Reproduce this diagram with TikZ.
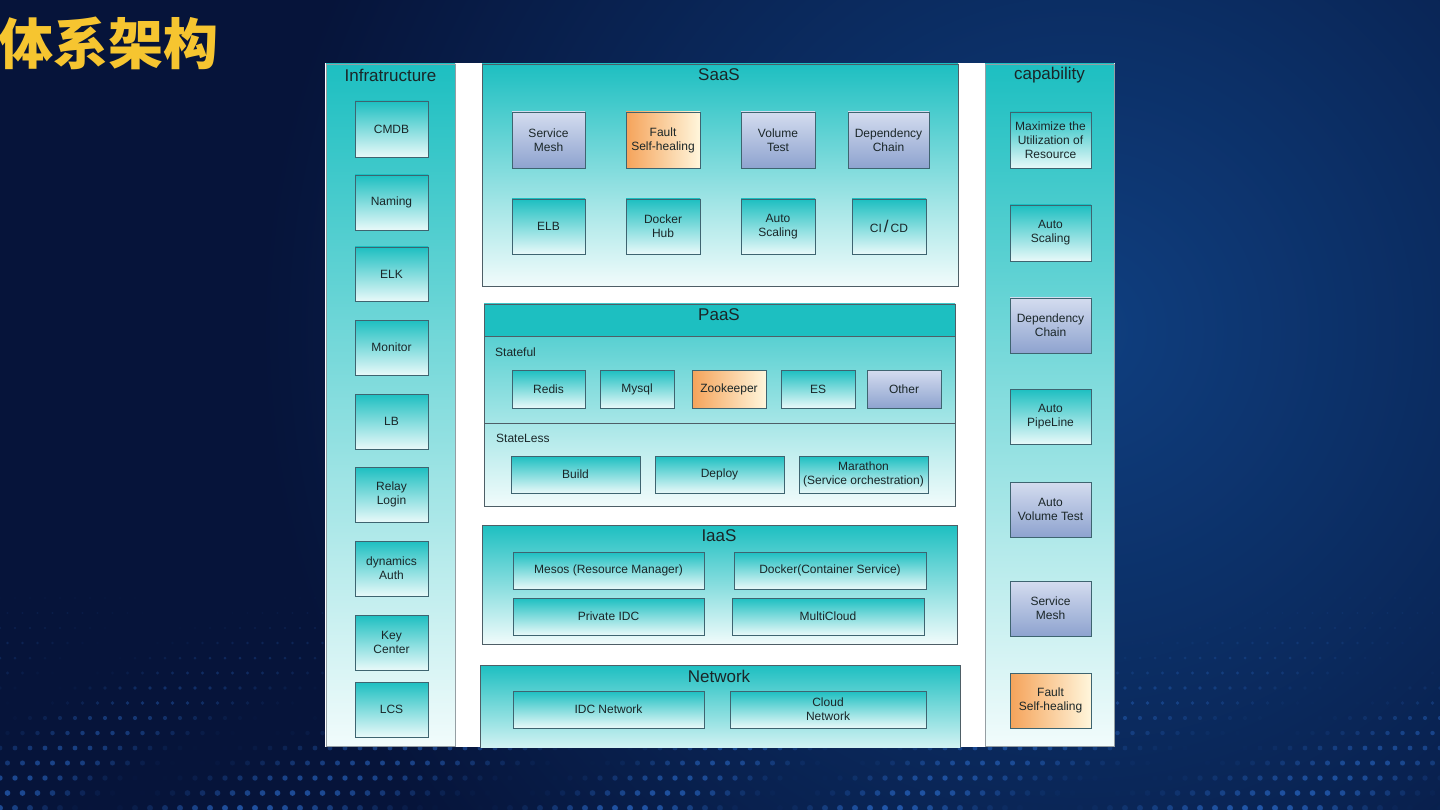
\documentclass[tikz,border=0pt]{standalone}
\usepackage{fontspec}
\setmainfont{Liberation Sans}
\newfontfamily\cjk{Noto Sans CJK SC}
\definecolor{teal1}{HTML}{1DBFC1}
\definecolor{teal2}{HTML}{E8F9F9}
\definecolor{blu1}{HTML}{D4DCEF}
\definecolor{blu2}{HTML}{8EA3CF}
\definecolor{or1}{HTML}{F5A35A}
\definecolor{or2}{HTML}{FFF6DC}
\definecolor{edge}{HTML}{3E6470}
\definecolor{pedge}{HTML}{4E5E66}
\definecolor{txt}{HTML}{1A2628}
\definecolor{ttl}{HTML}{F6C530}
\definecolor{bgdark}{HTML}{06143A}
\definecolor{bglight}{HTML}{0F3F80}
\definecolor{dotc}{HTML}{2F74DA}
\newcommand\mybox[7]{\node[#6, minimum width={#4-#2}, minimum height={#5-#3}] (#1) at ({(#2+#4)/2},{(#3+#5)/2}) {#7};}
\begin{document}
\begin{tikzpicture}[x=1pt,y=-1pt,
  base/.style={inner sep=0pt, outer sep=0pt, align=center, text=txt, font=\fontsize{12}{14}\selectfont},
  tbox/.style={base, draw=edge, line width=0.8pt, top color=teal1, bottom color=teal2},
  bbox/.style={base, draw=edge, line width=0.8pt, top color=blu1, bottom color=blu2},
  obox/.style={base, draw=edge, line width=0.8pt, left color=or1, right color=or2},
  panel/.style={base, draw=pedge, line width=0.8pt, top color=teal1, bottom color=teal2!60!white},
  ptitle/.style={inner sep=0pt, text=txt, font=\fontsize{17}{17}\selectfont},
  sublabel/.style={inner sep=0pt, anchor=west, text=txt, font=\fontsize{12}{12}\selectfont}]
% background
\useasboundingbox (0,0) rectangle (1440,810);
\fill[bgdark] (0,0) rectangle (1440,810);
\begin{scope}
\clip (0,0) rectangle (1440,810);
\shade[inner color=bglight, outer color=bgdark] (1080,330) circle (820);
\end{scope}
% dots
\foreach \r in {0,...,14}{
  \foreach \c in {0,...,96}{
    \pgfmathsetmacro{\dx}{\c*15+mod(\r,2)*7.5}
    \pgfmathsetmacro{\dy}{598+\r*15}
    \pgfmathsetmacro{\op}{(0.06+\r*0.04)*(0.5+0.5*sin(\c*17+\r*35+40*sin(\c*7)))}
    \pgfmathsetmacro{\rad}{0.9+\r*0.15}
    \fill[dotc, opacity=\op] (\dx,\dy) circle (\rad);
  }
}
% title
\node[anchor=west, inner sep=0pt, text=ttl, font=\cjk\bfseries\fontsize{55}{55}\selectfont] (title) at (-2,43) {体系架构};
% white panel
\fill[white] (325,63) rectangle (1115,747);
% columns
\mybox{infra}{326}{64}{455}{746}{panel, draw=pedge!60}{}
\mybox{capa}{985}{64}{1114}{746}{panel, draw=pedge!60}{}
\node[ptitle] (infraT) at (390.5,75) {Infratructure};
\node[ptitle] (capaT) at (1049.5,75) {capability};
% infra boxes
\mybox{cmdb}{355}{101}{428}{157}{tbox}{CMDB}
\mybox{naming}{355}{175}{428}{230}{tbox}{Naming}
\mybox{elk}{355}{247}{428}{301}{tbox}{ELK}
\mybox{monitor}{355}{320}{428}{375}{tbox}{Monitor}
\mybox{lb}{355}{394}{428}{449}{tbox}{LB}
\mybox{relay}{355}{467}{428}{522}{tbox}{Relay\\Login}
\mybox{dyn}{355}{541}{428}{596}{tbox}{dynamics\\Auth}
\mybox{key}{355}{615}{428}{670}{tbox}{Key\\Center}
\mybox{lcs}{355}{682}{428}{737}{tbox}{LCS}
% capability boxes
\mybox{cmax}{1010}{112}{1091}{168}{tbox}{Maximize the\\Utilization of\\Resource}
\mybox{cscale}{1010}{205}{1091}{261}{tbox}{Auto\\Scaling}
\mybox{cdep}{1010}{298}{1091}{353}{bbox}{Dependency\\Chain}
\mybox{cpipe}{1010}{389}{1091}{444}{tbox}{Auto\\PipeLine}
\mybox{cvol}{1010}{482}{1091}{537}{bbox}{Auto\\Volume Test}
\mybox{cmesh}{1010}{581}{1091}{636}{bbox}{Service\\Mesh}
\mybox{cfault}{1010}{673}{1091}{728}{obox}{Fault\\Self-healing}
% SaaS
\mybox{saas}{482}{64}{958}{286}{panel}{}
\node[ptitle] (saasT) at (719,75) {SaaS};
\mybox{smesh}{512}{112}{585}{168}{bbox}{Service\\Mesh}
\mybox{sfault}{626}{112}{700}{168}{obox}{Fault\\Self-healing}
\mybox{svol}{741}{112}{815}{168}{bbox}{Volume\\Test}
\mybox{sdep}{848}{112}{929}{168}{bbox}{Dependency\\Chain}
\mybox{selb}{512}{199}{585}{254}{tbox}{ELB}
\mybox{sdock}{626}{199}{700}{254}{tbox}{Docker\\Hub}
\mybox{sscale}{741}{199}{815}{254}{tbox}{Auto\\Scaling}
\mybox{scicd}{852}{199}{926}{254}{tbox}{CI\,{\fontsize{17}{17}\selectfont/}\,CD}
% PaaS
\mybox{paas}{484}{304}{955}{506}{panel, top color=teal1!85!teal2}{}
\fill[teal1] (paas.north west) rectangle (955,336);
\draw[pedge, line width=0.8pt] (paas.north west) rectangle (paas.south east);
\draw[pedge, line width=0.8pt] (484,336) -- (955,336);
\draw[pedge, line width=0.8pt] (484,423) -- (955,423);
\node[ptitle] (paasT) at (719,315) {PaaS};
\node[sublabel] (stateful) at (495,352) {Stateful};
\node[sublabel] (stateless) at (496,438) {StateLess};
\mybox{redis}{512}{370}{585}{408}{tbox}{Redis}
\mybox{mysql}{600}{370}{674}{408}{tbox}{Mysql}
\mybox{zoo}{692}{370}{766}{408}{obox}{Zookeeper}
\mybox{es}{781}{370}{855}{408}{tbox}{ES}
\mybox{other}{867}{370}{941}{408}{bbox}{Other}
\mybox{build}{511}{456}{640}{493}{tbox}{Build}
\mybox{deploy}{655}{456}{784}{493}{tbox}{Deploy}
\mybox{mara}{799}{456}{928}{493}{tbox}{Marathon\\(Service orchestration)}
% IaaS
\mybox{iaas}{482}{525}{957}{644}{panel}{}
\node[ptitle] (iaasT) at (719,536) {IaaS};
\mybox{mesos}{513}{552}{704}{589}{tbox}{Mesos (Resource Manager)}
\mybox{docker}{734}{552}{926}{589}{tbox}{Docker(Container Service)}
\mybox{pidc}{513}{598}{704}{635}{tbox}{Private IDC}
\mybox{multi}{732}{598}{924}{635}{tbox}{MultiCloud}
% Network (cut off at the bottom of the white panel)
\begin{scope}
\clip (470,655) rectangle (970,747);
\mybox{net}{480}{665}{960}{760}{panel, bottom color=teal2!80!white}{}
\end{scope}
\node[ptitle] (netT) at (719,676) {Network};
\mybox{idcnet}{513}{691}{704}{728}{tbox}{IDC Network}
\mybox{cloudnet}{730}{691}{926}{728}{tbox}{Cloud\\Network}
\end{tikzpicture}
\end{document}
